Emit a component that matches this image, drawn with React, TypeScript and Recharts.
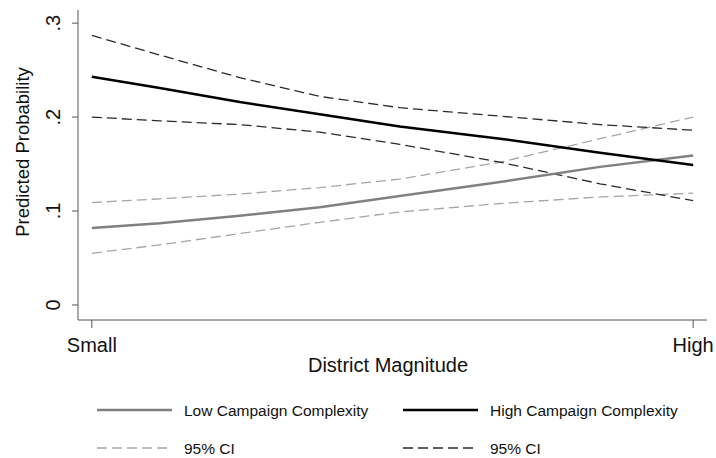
import { LineChart, Line, XAxis, YAxis } from "recharts";

// Predicted probability by district magnitude, low vs high campaign complexity,
// with 95% confidence bands.

const xPos = [0, 0.113, 0.246, 0.379, 0.512, 0.679, 0.845, 1];
const xTickLabels = ["Small", "High"];
const yTicks = [0, 0.1, 0.2, 0.3];

const lowMain = [0.082, 0.087, 0.095, 0.104, 0.116, 0.131, 0.147, 0.159];
const lowUpper = [0.109, 0.113, 0.118, 0.125, 0.134, 0.152, 0.177, 0.2];
const lowLower = [0.055, 0.064, 0.076, 0.088, 0.099, 0.108, 0.115, 0.119];

const highMain = [0.243, 0.231, 0.216, 0.203, 0.19, 0.177, 0.162, 0.149];
const highUpper = [0.287, 0.266, 0.242, 0.222, 0.21, 0.201, 0.192, 0.186];
const highLower = [0.2, 0.196, 0.192, 0.184, 0.171, 0.152, 0.129, 0.111];

const data = xPos.map((x, i) => ({
  x,
  lowMain: lowMain[i],
  lowUpper: lowUpper[i],
  lowLower: lowLower[i],
  highMain: highMain[i],
  highUpper: highUpper[i],
  highLower: highLower[i],
}));

const font = "'Liberation Sans', Arial, sans-serif";
const axisColor = "#555";
const textColor = "#111";
const lowColor = "#808080";
const lowCiColor = "#a6a6a6";
const highColor = "#000";
const highCiColor = "#2a2a2a";
const dash = "10 5";

function XTick({ x, y, payload }: any) {
  const label = payload.value === 0 ? xTickLabels[0] : xTickLabels[1];
  return (
    <text x={x} y={y} dy={22} textAnchor="middle" fontSize={20} fill={textColor} fontFamily={font}>
      {label}
    </text>
  );
}

function YTick({ x, y, payload }: any) {
  const v = payload.value;
  const label = v === 0 ? "0" : "." + Math.round(v * 10);
  return (
    <text
      x={0}
      y={0}
      transform={`translate(${x - 17}, ${y}) rotate(-90)`}
      dy="0.35em"
      textAnchor="middle"
      fontSize={20}
      fill={textColor}
      fontFamily={font}
    >
      {label}
    </text>
  );
}

const legendItems = [
  { label: "Low Campaign Complexity", color: lowColor, width: 2.5, dashed: false, x: 97, y: 410 },
  { label: "High Campaign Complexity", color: highColor, width: 2.5, dashed: false, x: 403, y: 410 },
  { label: "95% CI", color: lowCiColor, width: 1.3, dashed: true, x: 97, y: 448 },
  { label: "95% CI", color: highCiColor, width: 1.3, dashed: true, x: 403, y: 448 },
];

export default function App() {
  return (
    <div style={{ position: "absolute", left: 0, top: 0, width: 716, height: 458, background: "#fff" }}>
      <LineChart
        width={716}
        height={458}
        data={data}
        margin={{ top: 10, right: 9, bottom: 78, left: 18 }}
      >
        <XAxis
          dataKey="x"
          type="number"
          domain={[-0.023, 1.023]}
          ticks={[0, 1]}
          allowDataOverflow
          height={60}
          tickSize={8}
          tick={<XTick />}
          axisLine={{ stroke: axisColor }}
          tickLine={{ stroke: axisColor }}
          label={{
            content: () => (
              <text x={388} y={372} textAnchor="middle" fontSize={20} fill={textColor} fontFamily={font}>
                District Magnitude
              </text>
            ),
          }}
        />
        <YAxis
          type="number"
          domain={[-0.016, 0.314]}
          ticks={yTicks}
          allowDataOverflow
          width={60}
          tickSize={6}
          tick={<YTick />}
          axisLine={{ stroke: axisColor }}
          tickLine={{ stroke: axisColor }}
          label={{
            content: () => (
              <text
                x={0}
                y={0}
                transform="translate(23, 152) rotate(-90)"
                dy="0.35em"
                textAnchor="middle"
                fontSize={18.5}
                fill={textColor}
                fontFamily={font}
              >
                Predicted Probability
              </text>
            ),
          }}
        />
        <Line type="linear" dataKey="lowUpper" stroke={lowCiColor} strokeWidth={1.3} strokeDasharray={dash} dot={false} isAnimationActive={false} />
        <Line type="linear" dataKey="lowLower" stroke={lowCiColor} strokeWidth={1.3} strokeDasharray={dash} dot={false} isAnimationActive={false} />
        <Line type="linear" dataKey="highUpper" stroke={highCiColor} strokeWidth={1.3} strokeDasharray={dash} dot={false} isAnimationActive={false} />
        <Line type="linear" dataKey="highLower" stroke={highCiColor} strokeWidth={1.3} strokeDasharray={dash} dot={false} isAnimationActive={false} />
        <Line type="linear" dataKey="lowMain" stroke={lowColor} strokeWidth={2.5} dot={false} isAnimationActive={false} />
        <Line type="linear" dataKey="highMain" stroke={highColor} strokeWidth={2.5} dot={false} isAnimationActive={false} />
      </LineChart>
      <svg width={716} height={458} style={{ position: "absolute", left: 0, top: 0, pointerEvents: "none" }}>
        {legendItems.map((it, i) => (
          <g key={i}>
            <line
              x1={it.x}
              x2={it.x + 75}
              y1={it.y}
              y2={it.y}
              stroke={it.color}
              strokeWidth={it.width}
              strokeDasharray={it.dashed ? dash : undefined}
            />
            <text x={it.x + 87} y={it.y + 6} fontSize={15.5} fill={textColor} fontFamily={font}>
              {it.label}
            </text>
          </g>
        ))}
      </svg>
    </div>
  );
}
